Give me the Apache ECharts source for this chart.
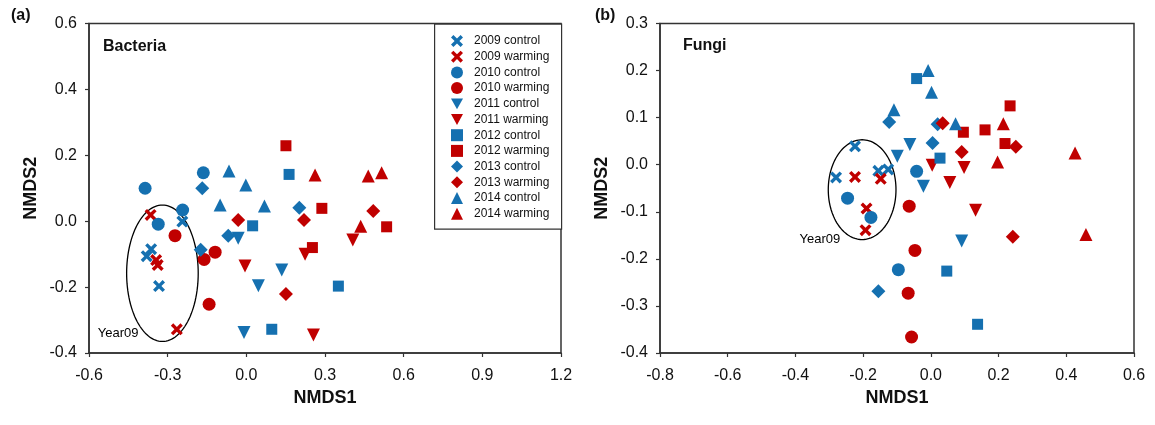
<!DOCTYPE html>
<html><head><meta charset="utf-8">
<script src="https://cdn.jsdelivr.net/npm/echarts@6/dist/echarts.min.js"></script>
<style>html,body{margin:0;padding:0;background:#fff}#c{width:1155px;height:425px}</style>
</head><body><div id="c"></div>
<script>
// ---- categories ----
const groupNames = ['2009 control','2009 warming','2010 control','2010 warming','2011 control','2011 warming',
  '2012 control','2012 warming','2013 control','2013 warming','2014 control','2014 warming'];

// ---- Bacteria (panel a) ----
const bac2009control = [[-0.244,-0.001],[-0.363,-0.085],[-0.380,-0.106],[-0.333,-0.197]];
const bac2009warming = [[-0.365,0.019],[-0.344,-0.118],[-0.338,-0.133],[-0.265,-0.328]];
const bac2010control = [[-0.386,0.100],[-0.164,0.147],[-0.243,0.034],[-0.336,-0.009]];
const bac2010warming = [[-0.272,-0.044],[-0.119,-0.094],[-0.161,-0.116],[-0.142,-0.252]];
const bac2011control = [[-0.031,-0.052],[0.046,-0.196],[0.135,-0.148],[-0.009,-0.338]];
const bac2011warming = [[-0.005,-0.136],[0.224,-0.100],[0.256,-0.345],[0.406,-0.057]];
const bac2012control = [[0.024,-0.014],[0.163,0.142],[0.351,-0.197],[0.097,-0.328]];
const bac2012warming = [[0.151,0.229],[0.288,0.039],[0.252,-0.080],[0.535,-0.017]];
const bac2013control = [[-0.168,0.100],[-0.069,-0.044],[-0.174,-0.087],[0.202,0.041]];
const bac2013warming = [[-0.031,0.004],[0.220,0.004],[0.151,-0.221],[0.484,0.031]];
const bac2014control = [[-0.066,0.152],[-0.002,0.110],[-0.100,0.049],[0.069,0.046]];
const bac2014warming = [[0.262,0.140],[0.465,0.137],[0.516,0.147],[0.436,-0.015]];

// ---- Fungi (panel b) ----
const fun2009control = [[-0.224,0.039],[-0.280,-0.027],[-0.155,-0.013],[-0.126,-0.010]];
const fun2009warming = [[-0.224,-0.026],[-0.148,-0.030],[-0.190,-0.093],[-0.193,-0.139]];
const fun2010control = [[-0.246,-0.071],[-0.177,-0.112],[-0.042,-0.014],[-0.096,-0.223]];
const fun2010warming = [[-0.064,-0.088],[-0.047,-0.182],[-0.067,-0.273],[-0.057,-0.366]];
const fun2011control = [[-0.062,0.043],[-0.099,0.018],[-0.022,-0.046],[0.091,-0.162]];
const fun2011warming = [[0.004,-0.001],[0.098,-0.006],[0.056,-0.038],[0.132,-0.097]];
const fun2012control = [[-0.042,0.183],[0.027,0.014],[0.047,-0.226],[0.138,-0.339]];
const fun2012warming = [[0.234,0.125],[0.096,0.069],[0.160,0.074],[0.219,0.045]];
const fun2013control = [[-0.123,0.091],[0.020,0.086],[0.005,0.046],[-0.155,-0.269]];
const fun2013warming = [[0.035,0.088],[0.091,0.027],[0.251,0.038],[0.242,-0.153]];
const fun2014control = [[-0.008,0.200],[0.002,0.154],[-0.109,0.117],[0.073,0.087]];
const fun2014warming = [[0.214,0.087],[0.197,0.006],[0.426,0.025],[0.458,-0.148]];

// ---- Year09 ellipses [cx, cy, rx, ry] and label anchors ----
const ellipseBac = [-0.320,-0.158,0.1365,0.207];
const ellipseFun = [-0.203,-0.053,0.100,0.106];
const year09LabelBac = [-0.489,-0.340];
const year09LabelFun = [-0.328,-0.158];

// ---- axes ticks ----
const bacX = {min:-0.6, max:1.2, interval:0.3};
const bacY = {min:-0.4, max:0.6, interval:0.2};
const funX = {min:-0.8, max:0.6, interval:0.2};
const funY = {min:-0.4, max:0.3, interval:0.1};

const bacData = [bac2009control,bac2009warming,bac2010control,bac2010warming,bac2011control,bac2011warming,
  bac2012control,bac2012warming,bac2013control,bac2013warming,bac2014control,bac2014warming];
const funData = [fun2009control,fun2009warming,fun2010control,fun2010warming,fun2011control,fun2011warming,
  fun2012control,fun2012warming,fun2013control,fun2013warming,fun2014control,fun2014warming];

const BLUE = '#1570b0', RED = '#c00000';
const XPATH = 'path://M0,2 L2,0 L5,3 L8,0 L10,2 L7,5 L10,8 L8,10 L5,7 L2,10 L0,8 L3,5 Z';
const DOWNTRI = 'path://M0,0 L10,0 L5,9 Z';
const shapes = [XPATH, 'circle', DOWNTRI, 'rect', 'diamond', 'triangle'];
const sizes = [12, 13, 13, 11, 14, 13];

const FONT = 'Liberation Sans, Arial, sans-serif';
const fmt = v => (Math.abs(v) < 1e-9 ? 0 : v).toFixed(1);

function axisCommon(idx, range, name, nameGap, labelMargin) {
  return Object.assign({
    type:'value', gridIndex: idx, name: name, nameLocation:'middle', nameGap: nameGap,
    nameTextStyle:{fontFamily:FONT, fontWeight:'bold', fontSize:18, color:'#111'},
    axisLine:{show:true, onZero:false, lineStyle:{color:'#333', width:1.5}},
    axisTick:{show:true, inside:false, length:4, lineStyle:{color:'#333', width:1.2}},
    axisLabel:{fontFamily:FONT, fontSize:16, color:'#111', margin:labelMargin, formatter: fmt},
    splitLine:{show:false}
  }, range);
}

const series = [];
[bacData, funData].forEach((panel, p) => {
  panel.forEach((d, i) => {
    const g = Math.floor(i/2);
    series.push({
      type:'scatter', name: groupNames[i], xAxisIndex:p, yAxisIndex:p,
      data: d, symbol: shapes[g], symbolSize: sizes[g],
      itemStyle:{color: i % 2 === 0 ? BLUE : RED, opacity:1},
      emphasis:{disabled:true}, z: 3
    });
  });
});

function ellipseRender(params, api) {
  const c = api.coord([api.value(0), api.value(1)]);
  const s = api.size([api.value(2), api.value(3)]);
  const pts = [];
  for (let k = 0; k <= 120; k++) {
    const t = k / 120 * 2 * Math.PI;
    pts.push([c[0] + s[0]*Math.cos(t), c[1] + s[1]*Math.sin(t)]);
  }
  return {type:'polyline', shape:{points:pts}, style:{stroke:'#000', fill:null, lineWidth:1.3}, silent:true};
}
function labelRender(params, api) {
  const c = api.coord([api.value(0), api.value(1)]);
  return {type:'text', x:c[0], y:c[1], style:{text:'Year09', font:'13px ' + FONT, fill:'#000', align:'center', verticalAlign:'middle'}, silent:true};
}
[[ellipseBac, year09LabelBac],[ellipseFun, year09LabelFun]].forEach((e, p) => {
  series.push({type:'custom', xAxisIndex:p, yAxisIndex:p, data:[e[0]], encode:{x:0,y:1}, renderItem: ellipseRender, clip:false, z:2});
  series.push({type:'custom', xAxisIndex:p, yAxisIndex:p, data:[e[1]], encode:{x:0,y:1}, renderItem: labelRender, clip:false, z:2});
});

const chart = echarts.init(document.getElementById('c'), null, {renderer:'canvas'});
chart.setOption({
  animation:false,
  backgroundColor:'#fff',
  grid:[
    {left:89, top:23.5, width:472, height:329.5, show:true, borderColor:'#333', borderWidth:1.5, backgroundColor:'transparent'},
    {left:660, top:23.5, width:474, height:329.5, show:true, borderColor:'#333', borderWidth:1.5, backgroundColor:'transparent'}
  ],
  xAxis:[ axisCommon(0, bacX, 'NMDS1', 34, 15), axisCommon(1, funX, 'NMDS1', 34, 15) ],
  yAxis:[ axisCommon(0, bacY, 'NMDS2', 49, 12), axisCommon(1, funY, 'NMDS2', 49, 12) ],
  legend:{
    data: groupNames, orient:'vertical', left:451, top:35, padding:0,
    itemWidth:12, itemHeight:12, itemGap:3.7, selectedMode:false,
    textStyle:{fontFamily:FONT, fontSize:12, color:'#111', lineHeight:12, padding:[0,0,0,6]}
  },
  graphic:[
    {type:'rect', left:434, top:23.5, shape:{width:127, height:205}, style:{fill:'#fff', stroke:'#333', lineWidth:1.2}, z:0, silent:true},
    {type:'text', left:103, top:39, style:{text:'Bacteria', font:'bold 16px ' + FONT, fill:'#111'}},
    {type:'text', left:683, top:38, style:{text:'Fungi', font:'bold 16px ' + FONT, fill:'#111'}},
    {type:'text', left:11, top:8, style:{text:'(a)', font:'bold 16px ' + FONT, fill:'#111'}},
    {type:'text', left:595, top:8, style:{text:'(b)', font:'bold 16px ' + FONT, fill:'#111'}}
  ],
  series: series
});
</script></body></html>
